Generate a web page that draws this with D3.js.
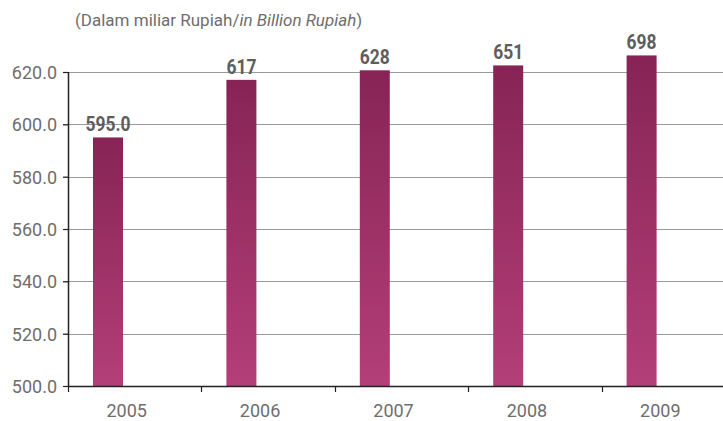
<!DOCTYPE html>
<html>
<head>
<meta charset="utf-8">
<script src="https://cdn.jsdelivr.net/npm/d3@7/dist/d3.min.js"></script>
<style>
  html, body { margin: 0; padding: 0; background: #fff; }
  svg { display: block; }
</style>
</head>
<body>
<svg id="chart" width="723" height="421"></svg>
<script>
// Pendapatan per tahun (miliar Rupiah)
const years = ["2005", "2006", "2007", "2008", "2009"];
const values = [595.0, 617, 628, 651, 698];
const valueLabels = ["595.0", "617", "628", "651", "698"];
const yTicks = [500, 520, 540, 560, 580, 600, 620];

const svg = d3.select("#chart");
const W = 723, H = 421;
const left = 68, right = 735, bottom = 386;

// x: one band per year
const x = d3.scaleBand().domain(years).range([left, right]).padding(0);

// y: linear up to the last tick, compressed above it
const y = d3.scaleLinear().domain([500, 620, 700]).range([bottom, 72, 55]);

const defs = svg.append("defs");
const grad = defs.append("linearGradient")
  .attr("id", "barGrad").attr("x1", 0).attr("y1", 0).attr("x2", 0).attr("y2", 1);
grad.append("stop").attr("offset", "0%").attr("stop-color", "#872455");
grad.append("stop").attr("offset", "100%").attr("stop-color", "#b33f78");

// subtitle
svg.append("text")
  .attr("x", 75).attr("y", 26)
  .attr("font-family", "Roboto, 'Liberation Sans', sans-serif")
  .attr("font-size", 17)
  .attr("fill", "#6e6e6e")
  .call(t => {
    t.append("tspan").text("(Dalam miliar Rupiah/");
    t.append("tspan").attr("font-style", "italic").text("in Billion Rupiah");
    t.append("tspan").text(")");
  });

// horizontal grid lines
svg.append("g")
  .selectAll("line")
  .data(yTicks.filter(d => d !== 500))
  .join("line")
  .attr("x1", left - 5).attr("x2", W)
  .attr("y1", d => Math.round(y(d)) + 0.5).attr("y2", d => Math.round(y(d)) + 0.5)
  .attr("stroke", "#9a9a9a").attr("stroke-width", 1.2);

// y axis
const yAxis = d3.axisLeft(y).tickValues(yTicks).tickFormat(d3.format(".1f")).tickSize(5).tickPadding(6);
const gy = svg.append("g").attr("transform", `translate(${left},0)`).call(yAxis);
gy.select(".domain").attr("d", `M0.5,${y(620)}V${bottom}`).attr("stroke", "#222").attr("stroke-width", 1.5);
gy.selectAll(".tick line").attr("stroke", "#222").attr("stroke-width", 1.2);
gy.selectAll(".tick text")
  .attr("font-family", "Roboto, 'Liberation Sans', sans-serif")
  .attr("font-size", 18)
  .attr("fill", "#6e6e6e")
  .attr("dy", "0.36em");

// bars
svg.append("g")
  .selectAll("rect")
  .data(years.map((yr, i) => ({ yr, v: values[i] })))
  .join("rect")
  .attr("x", d => x(d.yr) + 25)
  .attr("width", 30)
  .attr("y", d => y(d.v))
  .attr("height", d => bottom - y(d.v))
  .attr("fill", "url(#barGrad)");

// value labels (bold, narrowed)
svg.append("g")
  .selectAll("text")
  .data(years.map((yr, i) => ({ yr, v: values[i], lab: valueLabels[i] })))
  .join("text")
  .attr("transform", d => `translate(${x(d.yr) + 40},${y(d.v) - 6}) scale(0.83,1)`)
  .attr("text-anchor", "middle")
  .attr("font-family", "Roboto, 'Liberation Sans', sans-serif")
  .attr("font-weight", "bold")
  .attr("font-size", 21)
  .attr("fill", "#5e5e5e")
  .text(d => d.lab);

// x axis
const xAxis = d3.axisBottom(x).tickSize(0).tickPadding(18);
const gx = svg.append("g").attr("transform", `translate(0,${bottom})`).call(xAxis);
gx.select(".domain").attr("d", `M${left},0.5H${W}`).attr("stroke", "#222").attr("stroke-width", 1.5);
gx.selectAll(".tick text")
  .attr("x", -8)
  .attr("font-family", "Roboto, 'Liberation Sans', sans-serif")
  .attr("font-size", 18)
  .attr("fill", "#6e6e6e");
// boundary ticks between years
gx.append("g")
  .selectAll("line")
  .data(years)
  .join("line")
  .attr("x1", d => Math.round(x(d)) + 0.5).attr("x2", d => Math.round(x(d)) + 0.5)
  .attr("y1", 0).attr("y2", 6)
  .attr("stroke", "#222").attr("stroke-width", 1.2);
</script>
</body>
</html>
